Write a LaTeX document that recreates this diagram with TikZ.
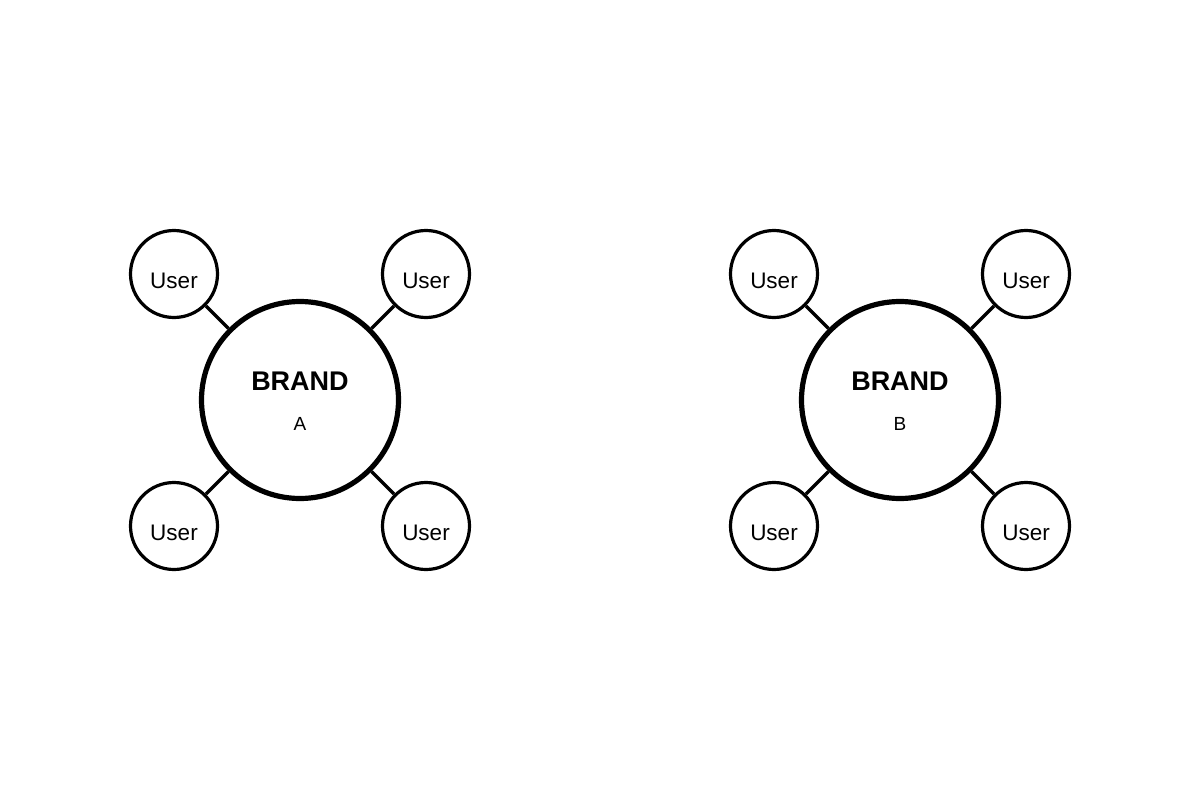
\documentclass[tikz,border=0pt]{standalone}
\usepackage{fontspec}
\setmainfont{Liberation Sans}
\begin{document}
\begin{tikzpicture}[x=1pt,y=-1pt,
  usercirc/.style={circle,draw=black,line width=3.2pt,minimum size=87pt,inner sep=0pt},
  brandcirc/.style={circle,draw=black,line width=5.2pt,minimum size=197pt,inner sep=0pt},
  link/.style={line width=3.2pt},
  usertext/.style={font=\fontsize{22.5}{22.5}\selectfont,anchor=base,inner sep=0pt},
  brandtext/.style={font=\fontsize{27}{27}\selectfont\bfseries,anchor=base,inner sep=0pt},
  lettertext/.style={font=\fontsize{19}{19}\selectfont,anchor=base,inner sep=0pt}]
\useasboundingbox (0,0) rectangle (1200,800);
\fill[white] (0,0) rectangle (1200,800);
\foreach \cx/\lab/\nm in {300/A/a,900/B/b}{
  \node[brandcirc] (brand\nm) at (\cx,400) {};
  \node[brandtext] (brandtitle\nm) at (\cx,390) {BRAND};
  \node[lettertext] (brandletter\nm) at (\cx,430) {\lab};
  \node[usercirc] (ul\nm) at (\cx-126,274) {};
  \node[usercirc] (ur\nm) at (\cx+126,274) {};
  \node[usercirc] (dl\nm) at (\cx-126,526) {};
  \node[usercirc] (dr\nm) at (\cx+126,526) {};
  \node[usertext] (tul\nm) at (\cx-126,288) {User};
  \node[usertext] (tur\nm) at (\cx+126,288) {User};
  \node[usertext] (tdl\nm) at (\cx-126,540) {User};
  \node[usertext] (tdr\nm) at (\cx+126,540) {User};
  \draw[link] (ul\nm) -- (brand\nm);
  \draw[link] (ur\nm) -- (brand\nm);
  \draw[link] (dl\nm) -- (brand\nm);
  \draw[link] (dr\nm) -- (brand\nm);
}
\end{tikzpicture}
\end{document}
